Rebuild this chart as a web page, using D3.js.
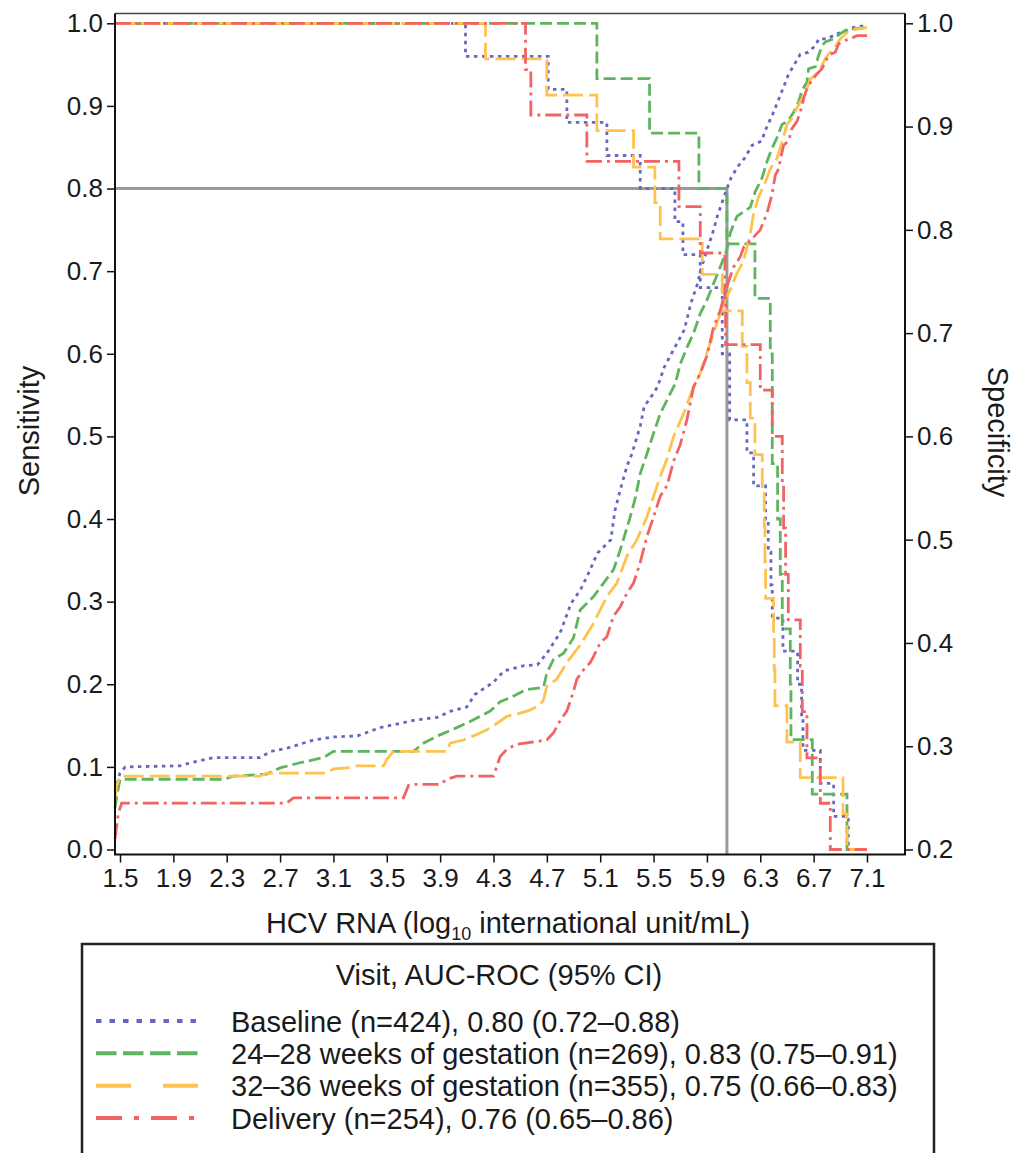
<!DOCTYPE html>
<html>
<head>
<meta charset="utf-8">
<script src="https://cdn.jsdelivr.net/npm/d3@7"></script>
<style>
body { margin: 0; background: #fff; }
svg text { font-family: "Liberation Sans", Arial, Helvetica, sans-serif; fill: #1a1a1a; }
.axis path.domain { display: none; }
.axis line { stroke: #111; stroke-width: 1.5; }
.axis text { font-size: 26px; }
</style>
</head>
<body>
<svg id="chart" width="1022" height="1153"></svg>
<script>
// sensitivity steps: [log10 HCV RNA, sensitivity]
var baselineSens = [[1.4625,1.00],[4.09,0.96],[4.71,0.92],[4.85,0.88],[5.15,0.84],[5.40,0.80],[5.66,0.76],[5.72,0.72],[5.85,0.68],[6.015,0.60],[6.07,0.52],[6.20,0.48],[6.25,0.44],[6.34,0.40],[6.36,0.36],[6.38,0.32],[6.39,0.28],[6.47,0.24],[6.58,0.20],[6.61,0.16],[6.62,0.12],[6.75,0.08],[6.85,0.04],[6.96,0.00],[7.10,0.00]];
var gest24Sens = [[1.4625,1.00],[5.075,0.933],[5.47,0.867],[5.84,0.80],[6.05,0.733],[6.26,0.667],[6.375,0.60],[6.39,0.467],[6.43,0.40],[6.45,0.333],[6.465,0.267],[6.525,0.20],[6.53,0.133],[6.69,0.067],[6.95,0.00],[7.10,0.00]];
var gest32Sens = [[1.4625,1.00],[4.24,0.957],[4.70,0.913],[5.075,0.870],[5.35,0.826],[5.51,0.783],[5.55,0.739],[5.865,0.696],[6.015,0.652],[6.165,0.609],[6.20,0.565],[6.225,0.522],[6.26,0.478],[6.315,0.435],[6.33,0.391],[6.335,0.348],[6.34,0.304],[6.40,0.261],[6.405,0.217],[6.41,0.174],[6.50,0.130],[6.60,0.087],[6.92,0.043],[6.95,0.00],[7.10,0.00]];
var deliverySens = [[1.4625,1.00],[4.54,0.944],[4.58,0.889],[5.00,0.833],[5.69,0.778],[5.85,0.722],[6.035,0.667],[6.04,0.611],[6.30,0.556],[6.39,0.50],[6.465,0.444],[6.475,0.389],[6.49,0.333],[6.51,0.278],[6.60,0.222],[6.615,0.167],[6.65,0.111],[6.75,0.056],[6.825,0.00],[7.10,0.00]];

// specificity: [log10 HCV RNA, specificity]
var baselineSpec = [[1.4625,0.256],[1.50,0.274],[1.54,0.280],[1.95,0.281],[2.03,0.284],[2.20,0.289],[2.55,0.289],[2.63,0.295],[2.75,0.298],[2.95,0.306],[3.10,0.309],[3.28,0.310],[3.45,0.318],[3.70,0.325],[3.88,0.328],[3.98,0.334],[4.10,0.338],[4.16,0.350],[4.30,0.362],[4.38,0.373],[4.53,0.378],[4.63,0.379],[4.70,0.390],[4.80,0.410],[4.88,0.438],[4.95,0.451],[5.00,0.464],[5.08,0.487],[5.18,0.500],[5.21,0.528],[5.25,0.548],[5.30,0.571],[5.34,0.584],[5.40,0.610],[5.43,0.629],[5.48,0.638],[5.53,0.648],[5.58,0.667],[5.65,0.684],[5.73,0.703],[5.78,0.729],[5.83,0.748],[5.86,0.764],[5.90,0.780],[5.95,0.800],[5.98,0.814],[6.05,0.840],[6.08,0.850],[6.13,0.861],[6.18,0.869],[6.24,0.882],[6.31,0.886],[6.34,0.897],[6.39,0.911],[6.44,0.927],[6.48,0.940],[6.51,0.950],[6.55,0.959],[6.60,0.970],[6.66,0.972],[6.71,0.978],[6.74,0.985],[6.80,0.985],[6.88,0.990],[6.95,0.993],[7.00,0.996],[7.10,0.998]];
var gest24Spec = [[1.4625,0.240],[1.475,0.251],[1.50,0.268],[2.275,0.268],[2.35,0.271],[2.60,0.273],[2.70,0.279],[2.85,0.284],[3.025,0.289],[3.10,0.295],[3.70,0.295],[3.775,0.303],[3.90,0.311],[4.025,0.318],[4.125,0.324],[4.275,0.334],[4.35,0.343],[4.425,0.347],[4.55,0.355],[4.675,0.357],[4.70,0.371],[4.75,0.384],[4.825,0.390],[4.90,0.405],[4.95,0.432],[5.05,0.445],[5.125,0.458],[5.20,0.471],[5.25,0.490],[5.325,0.522],[5.3625,0.540],[5.40,0.564],[5.45,0.583],[5.50,0.603],[5.55,0.622],[5.60,0.635],[5.6625,0.651],[5.70,0.670],[5.75,0.686],[5.80,0.700],[5.85,0.719],[5.90,0.732],[5.95,0.748],[6.00,0.764],[6.05,0.781],[6.075,0.797],[6.125,0.813],[6.225,0.822],[6.2625,0.837],[6.3125,0.850],[6.35,0.866],[6.3875,0.879],[6.425,0.889],[6.4625,0.902],[6.5125,0.906],[6.55,0.914],[6.5875,0.924],[6.6125,0.935],[6.65,0.943],[6.6625,0.956],[6.7125,0.958],[6.7375,0.969],[6.7625,0.978],[6.7875,0.982],[6.85,0.985],[6.90,0.990],[6.95,0.994],[7.10,0.996]];
var gest32Spec = [[1.4625,0.250],[1.475,0.262],[1.50,0.271],[2.55,0.271],[2.60,0.274],[3.05,0.274],[3.10,0.278],[3.20,0.279],[3.275,0.281],[3.475,0.281],[3.50,0.287],[3.55,0.295],[3.95,0.295],[3.975,0.303],[4.075,0.306],[4.15,0.310],[4.25,0.316],[4.325,0.322],[4.40,0.329],[4.50,0.332],[4.575,0.335],[4.65,0.340],[4.675,0.345],[4.70,0.358],[4.775,0.365],[4.85,0.381],[4.95,0.398],[5.05,0.419],[5.15,0.445],[5.225,0.458],[5.30,0.484],[5.375,0.500],[5.45,0.522],[5.50,0.542],[5.55,0.561],[5.60,0.578],[5.65,0.600],[5.725,0.622],[5.80,0.648],[5.85,0.661],[5.90,0.681],[5.95,0.700],[6.00,0.719],[6.025,0.729],[6.075,0.742],[6.125,0.758],[6.175,0.770],[6.225,0.796],[6.25,0.816],[6.2875,0.832],[6.3375,0.846],[6.375,0.859],[6.425,0.869],[6.4625,0.885],[6.50,0.902],[6.5375,0.908],[6.575,0.918],[6.6125,0.927],[6.65,0.937],[6.675,0.946],[6.7125,0.950],[6.75,0.956],[6.7875,0.966],[6.825,0.972],[6.85,0.975],[6.90,0.985],[6.95,0.991],[7.00,0.994],[7.10,0.996]];
var deliverySpec = [[1.4625,0.210],[1.4875,0.235],[1.5125,0.245],[2.75,0.245],[2.80,0.250],[3.625,0.250],[3.6625,0.262],[3.70,0.263],[3.90,0.263],[3.95,0.268],[4.025,0.271],[4.30,0.271],[4.35,0.290],[4.40,0.297],[4.475,0.302],[4.70,0.306],[4.75,0.313],[4.80,0.325],[4.85,0.334],[4.90,0.353],[4.925,0.365],[4.975,0.374],[5.025,0.381],[5.05,0.387],[5.10,0.400],[5.15,0.406],[5.20,0.426],[5.25,0.435],[5.30,0.448],[5.35,0.458],[5.40,0.478],[5.45,0.503],[5.50,0.522],[5.55,0.542],[5.60,0.552],[5.65,0.576],[5.70,0.592],[5.75,0.616],[5.80,0.648],[5.85,0.661],[5.90,0.678],[5.95,0.706],[6.00,0.722],[6.05,0.745],[6.10,0.764],[6.15,0.774],[6.175,0.783],[6.25,0.793],[6.30,0.800],[6.35,0.816],[6.3875,0.834],[6.4125,0.853],[6.4375,0.859],[6.4625,0.875],[6.475,0.882],[6.5125,0.886],[6.5375,0.898],[6.575,0.905],[6.60,0.914],[6.625,0.927],[6.65,0.937],[6.6875,0.945],[6.725,0.951],[6.7625,0.956],[6.80,0.966],[6.825,0.970],[6.8625,0.972],[6.8875,0.980],[6.925,0.983],[6.975,0.985],[7.025,0.988],[7.10,0.988]];

var xTicks = [1.5,1.9,2.3,2.7,3.1,3.5,3.9,4.3,4.7,5.1,5.5,5.9,6.3,6.7,7.1];
var sensTicks = [0,0.1,0.2,0.3,0.4,0.5,0.6,0.7,0.8,0.9,1.0];
var specTicks = [0.2,0.3,0.4,0.5,0.6,0.7,0.8,0.9,1.0];
var legendTitle = "Visit, AUC-ROC (95% CI)";
var legendLabels = [
	"Baseline (n=424), 0.80 (0.72\u20130.88)",
	"24\u201328 weeks of gestation (n=269), 0.83 (0.75\u20130.91)",
	"32\u201336 weeks of gestation (n=355), 0.75 (0.66\u20130.83)",
	"Delivery (n=254), 0.76 (0.65\u20130.86)"
];
var cutoffLog = 6.05, cutoffSens = 0.8;

var series = [
	{ label: legendLabels[0], sens: baselineSens, spec: baselineSpec, color: "#6767c2", dash: "3.5,4.5", legendDash: "5.5,8" },
	{ label: legendLabels[1], sens: gest24Sens, spec: gest24Spec, color: "#5fb55f", dash: "12,5", legendDash: "20.5,6.5" },
	{ label: legendLabels[2], sens: gest32Sens, spec: gest32Spec, color: "#ffc24f", dash: "20,6", legendDash: "35,32" },
	{ label: legendLabels[3], sens: deliverySens, spec: deliverySpec, color: "#f26464", dash: "16,5,3,5", legendDash: "26,12,5,12" }
];

var svg = d3.select("#chart");
var plot = { left: 115, right: 905, top: 13.5, bottom: 854.5 };

var x = d3.scaleLinear().domain([1.4625, 7.385]).range([plot.left, plot.right]);
var ySens = d3.scaleLinear().domain([0, 1]).range([849.5, 23.3]);
var ySpec = d3.scaleLinear().domain([0.2, 1]).range([849.5, 23.3]);

svg.append("rect").attr("width", 1022).attr("height", 1153).attr("fill", "#fff");

// frame
svg.append("line").attr("x1", plot.left).attr("x2", plot.right)
	.attr("y1", plot.top).attr("y2", plot.top)
	.attr("stroke", "#444").attr("stroke-width", 1.5);

// reference lines at the cutoff
svg.append("path")
	.attr("d", "M" + plot.left + "," + ySens(cutoffSens) + "H" + x(cutoffLog) + "V" + plot.bottom)
	.attr("fill", "none").attr("stroke", "#9a9a9a").attr("stroke-width", 3);

var lineSens = d3.line()
	.x(function(d) { return x(d[0]); })
	.y(function(d) { return ySens(d[1]); })
	.curve(d3.curveStepAfter);
var lineSpec = d3.line()
	.x(function(d) { return x(d[0]); })
	.y(function(d) { return ySpec(d[1]); });

var curves = svg.append("g").attr("class", "curves");
series.forEach(function(s) {
	curves.append("path").attr("d", lineSpec(s.spec))
		.attr("fill", "none").attr("stroke", s.color).attr("stroke-width", 2.8)
		.attr("stroke-dasharray", s.dash);
	curves.append("path").attr("d", lineSens(s.sens))
		.attr("fill", "none").attr("stroke", s.color).attr("stroke-width", 2.8)
		.attr("stroke-dasharray", s.dash);
});

// axes
svg.append("g").attr("class", "axis")
	.attr("transform", "translate(0," + plot.bottom + ")")
	.call(d3.axisBottom(x).tickValues(xTicks).tickSize(8).tickPadding(6).tickFormat(d3.format(".1f")));
svg.append("g").attr("class", "axis")
	.attr("transform", "translate(" + plot.left + ",0)")
	.call(d3.axisLeft(ySens).tickValues(sensTicks).tickSize(8).tickPadding(4).tickFormat(d3.format(".1f")));
svg.append("g").attr("class", "axis")
	.attr("transform", "translate(" + plot.right + ",0)")
	.call(d3.axisRight(ySpec).tickValues(specTicks).tickSize(8).tickPadding(4).tickFormat(d3.format(".1f")));

svg.append("path")
	.attr("d", "M" + plot.left + "," + plot.top + "V" + plot.bottom + "H" + plot.right + "V" + plot.top)
	.attr("fill", "none").attr("stroke", "#111").attr("stroke-width", 2);

// axis titles
var xt = svg.append("text").attr("x", 508).attr("y", 933)
	.attr("text-anchor", "middle").attr("font-size", 29);
xt.append("tspan").text("HCV RNA (log");
xt.append("tspan").attr("font-size", 18).attr("dy", 7).text("10");
xt.append("tspan").attr("dy", -7).text(" international unit/mL)");

svg.append("text").attr("transform", "translate(39,431) rotate(-90)")
	.attr("text-anchor", "middle").attr("font-size", 29).text("Sensitivity");
svg.append("text").attr("transform", "translate(988,432) rotate(90)")
	.attr("text-anchor", "middle").attr("font-size", 29).text("Specificity");

// legend
var legend = svg.append("g").attr("class", "legend");
legend.append("rect").attr("x", 82).attr("y", 944).attr("width", 852).attr("height", 230)
	.attr("fill", "none").attr("stroke", "#222").attr("stroke-width", 2.5);
legend.append("text").attr("x", 499).attr("y", 985)
	.attr("text-anchor", "middle").attr("font-size", 29).text(legendTitle);

var rowY = d3.scalePoint().domain(d3.range(series.length)).range([1021, 1118]);
series.forEach(function(s, i) {
	legend.append("line").attr("x1", 96).attr("x2", 198)
		.attr("y1", rowY(i)).attr("y2", rowY(i))
		.attr("stroke", s.color).attr("stroke-width", 4)
		.attr("stroke-dasharray", s.legendDash);
	legend.append("text").attr("x", 231).attr("y", rowY(i) + 10.5)
		.attr("font-size", 29).text(s.label);
});
</script>
</body>
</html>
